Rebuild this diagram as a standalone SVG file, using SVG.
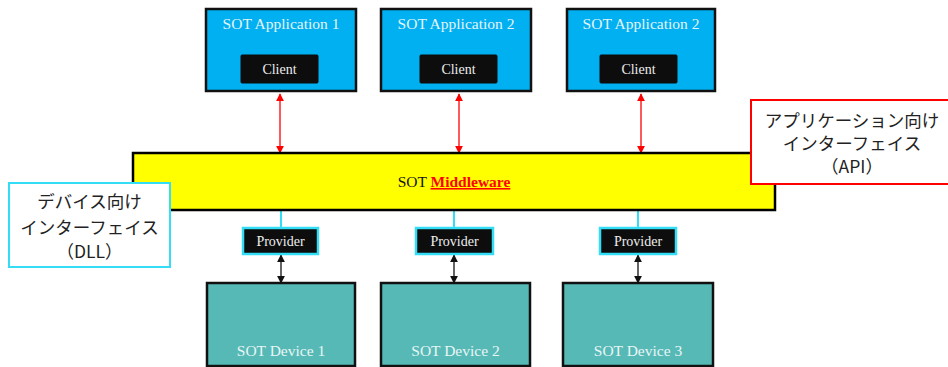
<svg xmlns="http://www.w3.org/2000/svg" width="948" height="367" viewBox="0 0 948 367">
<style>
.app{fill:#00B0F0;stroke:#111;stroke-width:2.5}
.client{fill:#0D0D0D;stroke:#0D0D0D;stroke-width:1}
.prov{fill:#0D0D0D;stroke:#33DDF5;stroke-width:2.5}
.dev{fill:#57B9B6;stroke:#111;stroke-width:2.5}
.mw{fill:#FFFF00;stroke:#000;stroke-width:2.5}
.ttl{font-family:"Liberation Serif","Times New Roman",serif;font-size:15.5px;fill:#E4F4FC;text-anchor:middle}
.dttl{font-family:"Liberation Serif","Times New Roman",serif;font-size:15.5px;fill:#E8F6F5;text-anchor:middle}
.sm{font-family:"Liberation Serif","Times New Roman",serif;font-size:14px;fill:#EEEEEE;text-anchor:middle}
.jp{font-family:"Noto Sans CJK JP","Noto Sans",sans-serif;font-size:17.5px;fill:#222;text-anchor:middle}
.red{stroke:#FF0000;stroke-width:1.3;fill:none}
.blk{stroke:#111;stroke-width:1.3;fill:none}
.cy{stroke:#33DDF5;stroke-width:2;fill:none}
</style>
<defs>
<marker id="ar" viewBox="0 0 10 10" refX="9" refY="5" markerWidth="8" markerHeight="8" markerUnits="userSpaceOnUse" orient="auto-start-reverse"><path d="M0,0 L10,5 L0,10 z" fill="#FF0000"/></marker>
<marker id="ab" viewBox="0 0 10 10" refX="9" refY="5" markerWidth="8" markerHeight="8" markerUnits="userSpaceOnUse" orient="auto-start-reverse"><path d="M0,0 L10,5 L0,10 z" fill="#111"/></marker>
</defs>
<g id="connectors">
<line class="red" x1="280" y1="94" x2="280" y2="153" marker-start="url(#ar)" marker-end="url(#ar)"/>
<line class="red" x1="459" y1="94" x2="459" y2="153" marker-start="url(#ar)" marker-end="url(#ar)"/>
<line class="red" x1="641" y1="94" x2="641" y2="153" marker-start="url(#ar)" marker-end="url(#ar)"/>
<line class="cy" x1="281" y1="211" x2="281" y2="228"/>
<line class="cy" x1="454" y1="211" x2="454" y2="228"/>
<line class="cy" x1="638" y1="211" x2="638" y2="228"/>
<line class="blk" x1="281" y1="255" x2="281" y2="283" marker-start="url(#ab)" marker-end="url(#ab)"/>
<line class="blk" x1="454" y1="255" x2="454" y2="283" marker-start="url(#ab)" marker-end="url(#ab)"/>
<line class="blk" x1="638" y1="255" x2="638" y2="283" marker-start="url(#ab)" marker-end="url(#ab)"/>
</g>
<g id="app1">
<rect class="app" x="206" y="9" width="150" height="82"/>
<text class="ttl" x="281" y="29">SOT Application 1</text>
<rect class="client" x="241" y="55" width="77" height="28" rx="1"/>
<text class="sm" x="279.5" y="74">Client</text>
</g>
<g id="app2">
<rect class="app" x="381" y="9" width="150" height="82"/>
<text class="ttl" x="456" y="29">SOT Application 2</text>
<rect class="client" x="420" y="55" width="77" height="28" rx="1"/>
<text class="sm" x="458.5" y="74">Client</text>
</g>
<g id="app3">
<rect class="app" x="567" y="9" width="148" height="82"/>
<text class="ttl" x="641" y="29">SOT Application 2</text>
<rect class="client" x="600" y="55" width="77" height="28" rx="1"/>
<text class="sm" x="638.5" y="74">Client</text>
</g>
<g id="middleware">
<rect class="mw" x="133" y="153" width="642" height="57"/>
<text x="454" y="187" text-anchor="middle" font-family="'Liberation Serif','Times New Roman',serif" font-size="15.5" fill="#111">SOT <tspan fill="#FF0000" font-weight="bold" text-decoration="underline">Middleware</tspan></text>
</g>
<g id="api">
<rect x="751" y="100" width="200" height="84" fill="#FFFFFF" stroke="#FF0000" stroke-width="2"/>
<text class="jp" x="852" y="127">アプリケーション向け</text>
<text class="jp" x="852" y="150">インターフェイス</text>
<text class="jp" x="852" y="173">（API）</text>
</g>
<g id="dll">
<rect x="9" y="183" width="161" height="84" fill="#FFFFFF" stroke="#33DDF5" stroke-width="2"/>
<text class="jp" x="89.5" y="208">デバイス向け</text>
<text class="jp" x="89.5" y="234">インターフェイス</text>
<text class="jp" x="89.5" y="258">（DLL）</text>
</g>
<g id="provider1">
<rect class="prov" x="243" y="228" width="75" height="26"/>
<text class="sm" x="280.5" y="246">Provider</text>
</g>
<g id="provider2">
<rect class="prov" x="416" y="228" width="77" height="26"/>
<text class="sm" x="454.5" y="246">Provider</text>
</g>
<g id="provider3">
<rect class="prov" x="600" y="228" width="76" height="26"/>
<text class="sm" x="638" y="246">Provider</text>
</g>
<g id="device1">
<rect class="dev" x="207" y="283" width="148" height="83"/>
<text class="dttl" x="281" y="356">SOT Device 1</text>
</g>
<g id="device2">
<rect class="dev" x="381" y="283" width="149" height="83"/>
<text class="dttl" x="455.5" y="356">SOT Device 2</text>
</g>
<g id="device3">
<rect class="dev" x="563" y="283" width="150" height="83"/>
<text class="dttl" x="638" y="356">SOT Device 3</text>
</g>
</svg>
